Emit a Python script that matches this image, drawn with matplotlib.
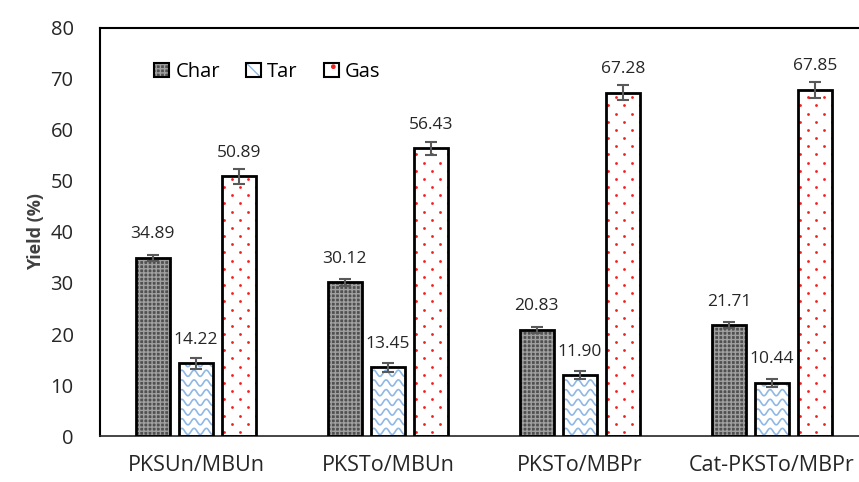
import numpy as np
import matplotlib
matplotlib.use('Agg')
import matplotlib.pyplot as plt
from matplotlib.patches import Patch
from matplotlib.legend_handler import HandlerTuple

plt.rcParams['font.family'] = ['Open Sans', 'DejaVu Sans']
plt.rcParams['hatch.linewidth'] = 1.0

categories = ['PKSUn/MBUn', 'PKSTo/MBUn', 'PKSTo/MBPr', 'Cat-PKSTo/MBPr']
char = [34.89, 30.12, 20.83, 21.71]
tar = [14.22, 13.45, 11.90, 10.44]
gas = [50.89, 56.43, 67.28, 67.85]
char_err = [0.6, 0.7, 0.6, 0.6]
tar_err = [1.0, 0.9, 0.8, 0.8]
gas_err = [1.5, 1.3, 1.5, 1.5]

fig = plt.figure(figsize=(8.59, 4.82), dpi=100)
ax = fig.add_axes([0.1164, 0.0954, 0.8941, 0.8466])

x = np.arange(len(categories))
w = 0.18
off = 0.225
ecol = '#595959'
TXT = '#262626'

# Char: dark fine checker
ax.bar(x - off, char, w, color='#505050', edgecolor='#a0a0a0', hatch='++++', lw=0, zorder=2)
ax.bar(x - off, char, w, fill=False, edgecolor='black', lw=2, zorder=3)

# Tar: white with blue waves
ax.bar(x, tar, w, color='white', lw=0, zorder=1)
b_tar = ax.bar(x, tar, w, fill=False, edgecolor='black', lw=2, zorder=3)

# Gas: white with small red dots
ax.bar(x + off, gas, w, color='white', lw=0, zorder=1)
b_gas = ax.bar(x + off, gas, w, fill=False, edgecolor='black', lw=2, zorder=3)

# wavy pattern inside tar bars
for bar in b_tar:
    x0 = bar.get_x(); x1 = x0 + bar.get_width(); h = bar.get_height()
    xs = np.linspace(x0, x1, 80)
    for yb in np.arange(0.9, h + 2, 1.9):
        ys = yb + 0.6 * np.sin((xs - x0) * 2 * np.pi / 0.064)
        ln, = ax.plot(xs, ys, color='#8fb8e4', lw=1.2, zorder=2)
        ln.set_clip_path(bar)

# dot pattern inside gas bars
for bar in b_gas:
    x0 = bar.get_x(); x1 = x0 + bar.get_width(); h = bar.get_height()
    px, py = [], []
    for i, yb in enumerate(np.arange(0.8, h, 1.6)):
        start = x0 + 0.01 + (0.042 if i % 2 else 0.0)
        for xb in np.arange(start, x1, 0.084):
            px.append(xb); py.append(yb)
    sc = ax.scatter(px, py, s=4, color='#f02020', lw=0, zorder=2)
    sc.set_clip_path(bar)

for pos, vals, errs in [(x - off, char, char_err), (x, tar, tar_err), (x + off, gas, gas_err)]:
    ax.errorbar(pos, vals, yerr=errs, fmt='none', ecolor=ecol, elinewidth=1.5,
                capsize=4, capthick=1.5, zorder=4)
    for xi, v in zip(pos, vals):
        ax.annotate(f'{v:.2f}', (xi, v), xytext=(0, 17), textcoords='offset points',
                    ha='center', va='center', fontsize=12.5, color=TXT, zorder=5)

ax.set_ylim(0, 80)
ax.set_xlim(-0.5, len(categories) - 0.5)
ax.set_yticks(range(0, 81, 10))
ax.set_xticks(x)
ax.set_xticklabels(categories, fontsize=15.5, color=TXT)
ax.tick_params(axis='y', labelsize=14.5, colors=TXT, length=0, pad=19)
ax.tick_params(axis='x', length=0, pad=14)
ax.set_ylabel('Yield (%)', fontsize=13, fontweight='bold', color='#404040', labelpad=4)

for s in ['left', 'top']:
    ax.spines[s].set_color('black'); ax.spines[s].set_linewidth(1.5)
ax.spines['right'].set_visible(False)
ax.spines['bottom'].set_color(TXT); ax.spines['bottom'].set_linewidth(1.2)

edge = Patch(facecolor='none', edgecolor='black', lw=1.5)
handles = [(Patch(facecolor='#505050', edgecolor='#a0a0a0', hatch='++++', lw=0), edge),
           (Patch(facecolor='white', edgecolor='#8fb8e4', hatch='\\\\', lw=0), edge),
           (Patch(facecolor='white', edgecolor='#f02020', hatch='.', lw=0), edge)]
ax.legend(handles, ['Char', 'Tar', 'Gas'], loc='center left', bbox_to_anchor=(0.06, 0.892),
          ncol=3, frameon=False, fontsize=14.5, handlelength=0.75, handleheight=0.75,
          handletextpad=0.3, columnspacing=1.3, borderaxespad=0,
          handler_map={tuple: HandlerTuple(ndivide=1, pad=0)})

fig.savefig('out.png', dpi=100)
